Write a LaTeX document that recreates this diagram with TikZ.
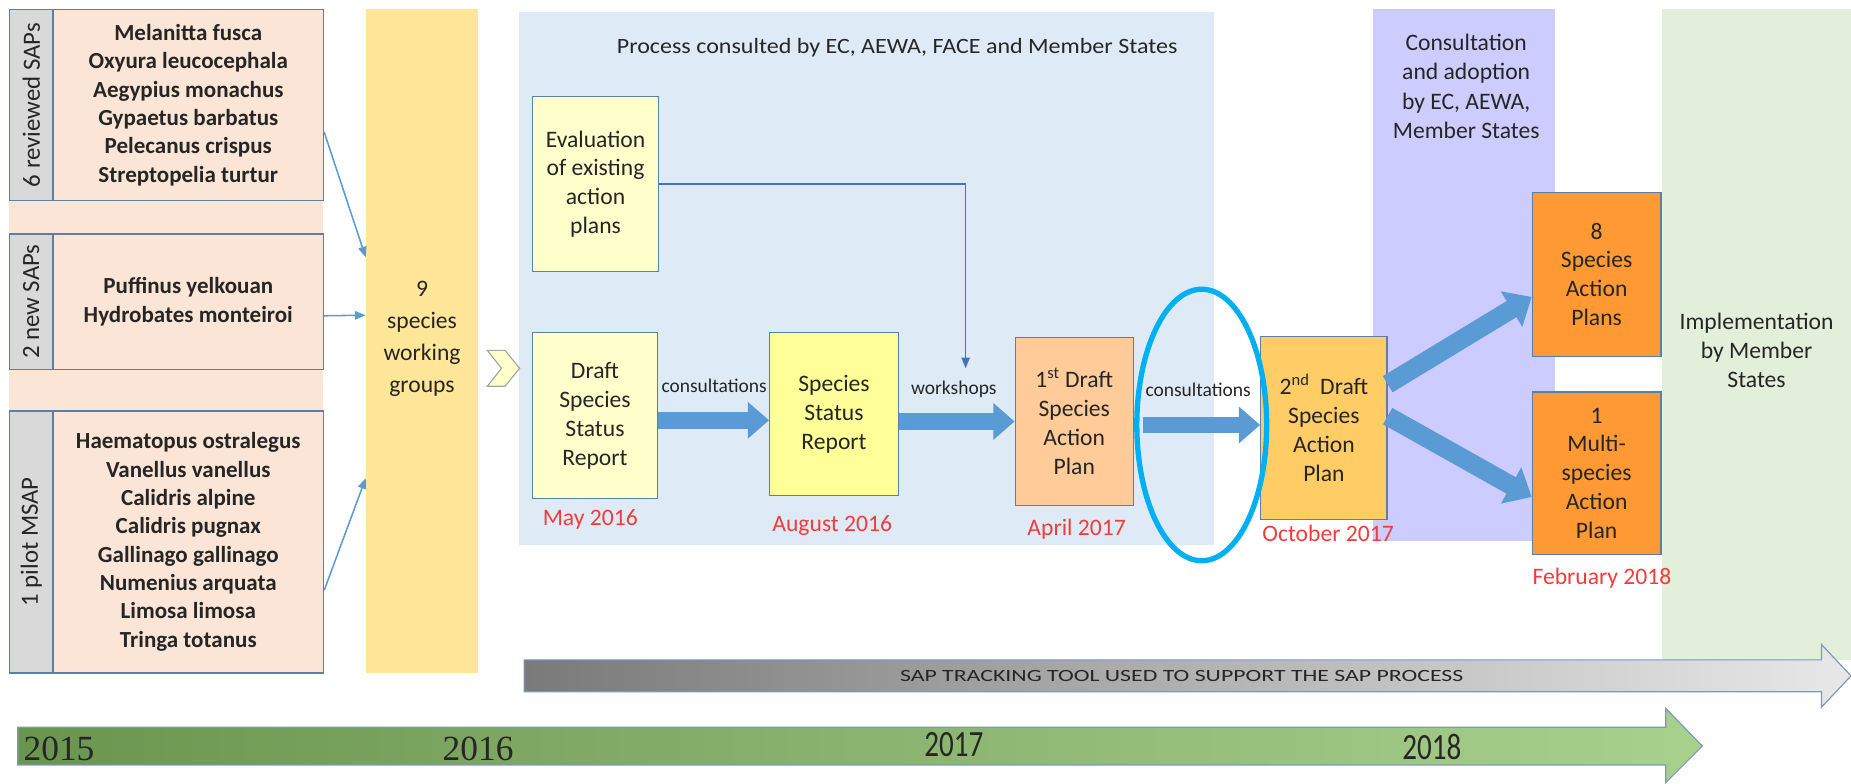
\documentclass[tikz,border=0pt]{standalone}
\usepackage{fontspec}
\setmainfont{Carlito}
\newfontfamily\yearfont{Liberation Serif}
\usetikzlibrary{arrows.meta,calc}
\definecolor{peach}{HTML}{FBE5D6}
\definecolor{lgray}{HTML}{D9D9D9}
\definecolor{boxline}{HTML}{5B7FA6}
\definecolor{wgyellow}{HTML}{FFE699}
\definecolor{procblue}{HTML}{DEEBF7}
\definecolor{paleyellow}{HTML}{FFFFCC}
\definecolor{yellowb}{HTML}{FFFF99}
\definecolor{lorange}{HTML}{FFCC99}
\definecolor{gold}{HTML}{FFCC66}
\definecolor{orangeb}{HTML}{FF9933}
\definecolor{purpleb}{HTML}{CCCCFF}
\definecolor{lgreen}{HTML}{E2EFDA}
\definecolor{arrowblue}{HTML}{5B9BD5}
\definecolor{linkblue}{HTML}{4472C4}
\definecolor{cyanring}{HTML}{00B0F0}
\definecolor{datered}{HTML}{F23C3C}
\definecolor{txtcol}{HTML}{262626}
\definecolor{tlleft}{HTML}{6A954F}
\definecolor{tlright}{HTML}{A9D18E}
\definecolor{grleft}{HTML}{7A7A7A}
\definecolor{grright}{HTML}{E8E8E8}
\begin{document}
\begin{tikzpicture}[x=1pt,y=-1pt,
  txt/.style={text=txtcol, inner sep=0pt, align=center},
  sbox/.style={draw=boxline, line width=1.3pt, fill=peach, inner sep=0pt, align=center, font=\bfseries\fontsize{19.5}{24}\selectfont, text=txtcol},
  lbl/.style={draw=boxline, line width=1.3pt, fill=lgray, inner sep=0pt, font=\fontsize{21}{22}\selectfont, text=txtcol},
  pbox/.style={draw=boxline, line width=1pt, inner sep=0pt, align=center, font=\fontsize{20}{24.5}\selectfont, text=txtcol},
  link/.style={draw=arrowblue, line width=1.3pt, -{Triangle[length=9pt,width=7pt]}},
  elink/.style={draw=linkblue, line width=1.3pt, -{Triangle[length=9pt,width=7pt]}},
  block/.style={draw=arrowblue, line width=14pt, -{Triangle[length=18pt,width=30pt]}},
  dblock/.style={draw=arrowblue, line width=16pt, -{Triangle[length=20pt,width=34pt]}},
  date/.style={text=datered, inner sep=0pt, font=\fontsize{20}{22}\selectfont},
  small/.style={text=txtcol, inner sep=0pt, font=\fontsize{16.5}{18}\selectfont},
  year/.style={text=black!85, inner sep=0pt, font=\yearfont\fontsize{30}{32}\selectfont}
]
\useasboundingbox (0,0) rectangle (1568,664);
% background regions
\fill[peach] (8,8) rectangle (274,348);
\fill[procblue] (440,10) rectangle (1028,462);
\fill[purpleb] (1163,8) rectangle (1317,458);
\fill[lgreen] (1408,8) rectangle (1568,559);

% left boxes
\node[sbox, minimum width=229pt, minimum height=162pt] (s1) at (159.5,89)
  {Melanitta fusca\\Oxyura leucocephala\\Aegypius monachus\\Gypaetus barbatus\\Pelecanus crispus\\Streptopelia turtur};
\node[lbl, minimum width=37pt, minimum height=162pt] (l1) at (26.5,89) {\rotatebox{90}{6 reviewed SAPs}};
\node[sbox, minimum width=229pt, minimum height=115pt] (s2) at (159.5,255.5)
  {Puffinus yelkouan\\Hydrobates monteiroi};
\node[lbl, minimum width=37pt, minimum height=115pt] (l2) at (26.5,255.5) {\rotatebox{90}{2 new SAPs}};
\node[sbox, minimum width=229pt, minimum height=222pt] (s3) at (159.5,459)
  {Haematopus ostralegus\\Vanellus vanellus\\Calidris alpine\\Calidris pugnax\\Gallinago gallinago\\Numenius arquata\\Limosa limosa\\Tringa totanus};
\node[lbl, minimum width=37pt, minimum height=222pt] (l3) at (26.5,459) {\rotatebox{90}{1 pilot MSAP}};

% working groups column
\node[fill=wgyellow, minimum width=95pt, minimum height=562pt, inner sep=0pt] (wg) at (357.5,289) {};
\node[txt, font=\fontsize{20}{27}\selectfont] (wgt) at (357.5,287) {9\\species\\working\\groups};

\draw[link] ([yshift=-23pt]s1.east) -- ([yshift=71pt]wg.west);
\draw[link] ([yshift=-12pt]s2.east) -- ([yshift=22pt]wg.west);
\draw[link] ([yshift=-41pt]s3.east) -- ([yshift=-116pt]wg.west);

% chevron
\node[inner sep=0pt, minimum width=27pt, minimum height=30pt] (chev) at (426.5,312) {};
\filldraw[fill=paleyellow, draw=black!35, line width=1pt]
  (chev.north west) -- ++(15,0) -- (chev.east) -- ($(chev.south west)+(15,0)$) -- (chev.south west) -- ($(chev.west)+(12,0)$) -- cycle;

% process title
\node[txt, font=\fontsize{18.5}{20}\selectfont] (ptitle) at (760,40) {\scalebox{1.1}[1]{Process consulted by EC, AEWA, FACE and Member States}};

% process boxes
\node[pbox, fill=paleyellow, minimum width=107pt, minimum height=148pt] (ev) at (504.5,156) {Evaluation\\of existing\\action\\plans};
\node[pbox, fill=paleyellow, minimum width=106pt, minimum height=140pt] (ds) at (504,352) {Draft\\Species\\Status\\Report};
\node[pbox, fill=yellowb, minimum width=109pt, minimum height=138pt] (ssr) at (706.5,351) {Species\\Status\\Report};
\node[pbox, fill=lorange, minimum width=100pt, minimum height=142pt] (d1) at (910,357) {1\textsuperscript{st} Draft\\Species\\Action\\Plan};
\node[pbox, fill=gold, minimum width=107pt, minimum height=155pt] (d2) at (1121.5,362.5) {2\textsuperscript{nd}\ \ Draft\\Species\\Action\\Plan};
\node[pbox, fill=orangeb, minimum width=109pt, minimum height=139pt] (p8) at (1352.5,232.5) {8\\Species\\Action\\Plans};
\node[pbox, fill=orangeb, minimum width=109pt, minimum height=138pt] (pm) at (1352.5,401) {1\\Multi-\\species\\Action\\Plan};

% region texts
\node[txt, font=\fontsize{20}{25}\selectfont] (cons) at (1242,73) {Consultation\\and adoption\\by EC, AEWA,\\Member States};
\node[txt, font=\fontsize{20}{24.5}\selectfont] (impl) at (1488,297) {Implementation\\by Member\\States};

% block arrows
\draw[block] ([yshift=-4pt]ds.east) -- ([yshift=-4pt]ds.east -| ssr.west);
\draw[block] ([yshift=-6pt]ssr.east) -- ([yshift=-6pt]ssr.east -| d1.west);
\draw[block] ([xshift=8pt,yshift=-3pt]d1.east) -- ([yshift=-3pt]d1.east -| d2.west);
\draw[dblock] ([yshift=37pt]d2.east) -- ([yshift=-19pt]p8.west);
\draw[dblock] ([yshift=10pt]d2.east) -- ([yshift=-20pt]pm.west);

\node[small] (lc1) at (605,327) {consultations};
\node[small] (lws) at (808,330) {workshops};
\node[small] (lc2) at (1015,330) {consultations};

% evaluation link
\coordinate (wsTop) at (818,312);
\draw[elink] (ev.east) -| (wsTop);

% dates
\node[date] (dt1) at (500,440) {May 2016};
\node[date] (dt2) at (705,445) {August 2016};
\node[date] (dt3) at (912,448) {April 2017};
\node[date] (dt4) at (1125,452) {October 2017};
\node[date] (dt5) at (1357,490) {February 2018};

% highlight ellipse
\draw[cyanring, line width=4.5pt] (1018,360) ellipse [x radius=55, y radius=115];

% tracking tool arrow
\path[left color=grleft, right color=grright, draw=boxline!80, line width=1pt]
  (444,559) -- (1543,559) -- (1543,546) -- (1568,572.5) -- (1543,599) -- (1543,586) -- (444,586) -- cycle;
\node[txt, font=\fontsize{14.5}{16}\selectfont] (track) at (1001,573) {\scalebox{1.39}[1]{SAP TRACKING TOOL USED TO SUPPORT THE SAP PROCESS}};

% timeline arrow
\path[left color=tlleft, right color=tlright, draw=boxline!80, line width=1pt]
  (15,616) -- (1411,616) -- (1411,600) -- (1442,632) -- (1411,663) -- (1411,648) -- (15,648) -- cycle;
\node[year] (y15) at (50,634) {2015};
\node[year] (y16) at (405,634) {2016};
\node[year, font=\fontsize{28}{30}\selectfont] (y17) at (808,631) {\scalebox{0.88}[1.12]{2017}};
\node[year, font=\fontsize{28}{30}\selectfont] (y18) at (1213,633) {\scalebox{0.88}[1.12]{2018}};
\end{tikzpicture}
\end{document}
